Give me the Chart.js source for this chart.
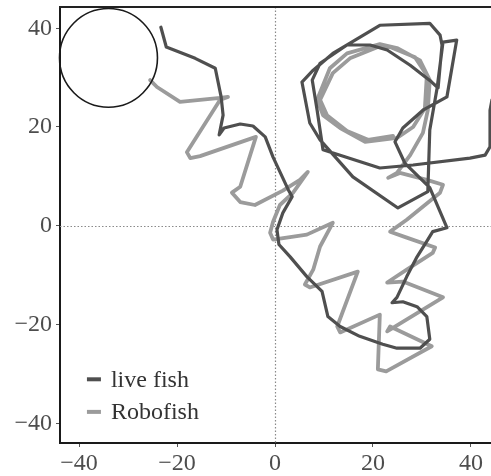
<!DOCTYPE html>
<html>
<head>
<meta charset="utf-8">
<script src="https://cdn.jsdelivr.net/npm/chart.js@4/dist/chart.umd.min.js"></script>
<style>
html,body{margin:0;padding:0;background:#fff;overflow:hidden;}
#wrap{width:491px;height:476px;}
</style>
</head>
<body>
<div id="wrap"><canvas id="c" width="491" height="476"></canvas></div>
<script>
// ---- data ----
const seriesNames = ["live fish", "Robofish"];
const liveFishX = [-23.3,-22.2,-16.3,-12.2,-11.0,-10.6,-11.4,-10.4,-7.1,-4.5,-2.0,-0.4,2.7,3.5,1.6,0.4,0.8,3.1,6.5,9.6,10.8,13.3,17.3,22.0,24.9,29.6,31.6,31.0,29.0,26.1,23.9,24.9,26.9,29.0,31.2,32.2,35.1,31.6,26.5,24.5,26.1,30.2,35.1,37.1,34.3,33.1,31.6,31.2,25.1,15.9,9.2,7.1,5.5,7.8,11.8,21.4,31.6,33.7,34.1,33.3,32.0,27.6,22.9,19.4,14.7,9.2,7.6,8.6,9.8,21.4,28.2,39.8,42.9,43.9,43.9,44.3];
const liveFishY = [40.2,36.2,33.9,31.9,26.1,22.4,18.4,19.8,20.6,20.2,18.0,13.9,7.3,5.9,2.6,-0.8,-3.8,-6.3,-10.3,-13.3,-18.4,-20.4,-22.4,-24.0,-24.8,-24.8,-23.0,-18.4,-16.4,-15.4,-15.6,-14.5,-10.3,-6.3,-2.8,-1.2,-0.4,7.7,12.7,17.0,19.8,23.4,26.1,37.6,37.2,27.9,19.4,6.9,3.6,9.9,17.4,20.8,29.1,31.5,34.9,40.6,41.0,38.6,36.6,27.9,29.1,32.5,35.6,36.6,36.6,32.9,29.5,23.4,15.4,11.7,12.3,13.7,14.3,16.0,23.4,25.5];
const robofishX = [-25.5,-24.1,-19.4,-11.2,-9.6,-11.2,-18.0,-17.3,-15.3,-3.9,-7.1,-8.8,-7.1,-4.1,1.6,5.1,6.7,3.7,1.0,-0.4,-1.0,-0.4,1.0,6.5,11.8,9.2,7.8,6.1,7.1,16.9,12.7,13.3,21.4,21.0,22.7,32.0,23.5,22.9,34.3,26.1,22.9,26.9,32.2,32.7,26.9,23.5,26.9,33.7,34.3,31.0,25.5,23.1,24.9,27.6,30.2,31.2,31.6,29.6,24.9,21.4,14.7,11.2,8.6,9.8,13.3,18.4,24.9,28.2,30.6,31.0,28.6,23.5,21.0,15.3,11.8,9.2,10.6,14.7,19.0,24.1];
const robofishY = [29.5,28.1,25.1,25.9,26.1,25.5,14.9,13.7,14.1,18.0,7.9,6.7,4.8,4.2,7.1,9.3,10.9,6.7,4.2,0.8,-1.4,-2.8,-2.6,-1.8,0.6,-4.2,-8.9,-11.9,-12.5,-9.3,-20.4,-21.6,-18.0,-29.1,-29.5,-24.4,-20.4,-21.4,-14.5,-11.3,-11.5,-8.9,-5.5,-4.4,-2.4,-1.2,1.2,6.7,8.3,9.3,10.7,9.7,10.7,14.3,18.8,23.4,29.5,33.5,36.0,36.8,34.9,31.9,25.5,22.4,19.8,17.0,17.8,20.0,23.8,30.5,34.1,36.2,36.2,33.9,30.9,25.5,22.4,19.2,17.4,18.2];
const tickValues = [-40, -20, 0, 20, 40];
const startZone = {x: -34, y: 34, r: 10};
const axisRange = {xMin: -43.9, xMax: 44.1, yMin: -44, yMax: 44.3};

function toPoints(xs, ys){
  const n = Math.min(xs.length, ys.length), out = [];
  for (let i = 0; i < n; i++) out.push({x: xs[i], y: ys[i]});
  return out;
}
const colors = ["#4f4f4f", "#9b9b9b"];
const FONT = "'Liberation Serif', 'DejaVu Serif', serif";

const fmt = v => (v < 0 ? "\u2212" + Math.abs(v) : String(v));

const decor = {
  id: 'decor',
  beforeDatasetsDraw(chart){
    const {ctx, chartArea: a, scales: {x, y}} = chart;
    ctx.save();
    ctx.strokeStyle = '#8a8a8a';
    ctx.lineWidth = 1.2;
    ctx.setLineDash([1.5, 2]);
    const x0 = Math.round(x.getPixelForValue(0)) + 0.5;
    const y0 = Math.round(y.getPixelForValue(0)) + 0.5;
    ctx.beginPath(); ctx.moveTo(x0, a.top); ctx.lineTo(x0, a.bottom); ctx.stroke();
    ctx.beginPath(); ctx.moveTo(a.left, y0); ctx.lineTo(a.right, y0); ctx.stroke();
    ctx.restore();
  },
  afterDatasetsDraw(chart){
    const {ctx, chartArea: a, scales: {x, y}} = chart;
    ctx.save();
    const cx = x.getPixelForValue(startZone.x), cy = y.getPixelForValue(startZone.y);
    const rx = Math.abs(x.getPixelForValue(startZone.x + startZone.r) - cx);
    const ry = Math.abs(y.getPixelForValue(startZone.y + startZone.r) - cy);
    ctx.beginPath(); ctx.ellipse(cx, cy, rx, ry, 0, 0, Math.PI*2);
    ctx.strokeStyle = '#1a1a1a'; ctx.lineWidth = 1.6; ctx.stroke();
    ctx.beginPath(); ctx.moveTo(a.left - 1, a.top); ctx.lineTo(a.right, a.top);
    ctx.strokeStyle = '#222'; ctx.lineWidth = 2; ctx.stroke();
    ctx.font = "24px " + FONT;
    ctx.textBaseline = 'middle';
    const lx = x.getPixelForValue(-38.4), ly = [y.getPixelForValue(-31.1), y.getPixelForValue(-37.7)];
    chart.data.datasets.forEach((ds, i) => {
      ctx.strokeStyle = ds.borderColor; ctx.lineWidth = 4; ctx.lineCap = 'butt';
      ctx.beginPath(); ctx.moveTo(lx, ly[i]); ctx.lineTo(lx + 14, ly[i]); ctx.stroke();
      ctx.fillStyle = '#333';
      ctx.fillText(ds.label, lx + 24, ly[i] + 1);
    });
    ctx.restore();
  }
};

new Chart(document.getElementById('c'), {
  type: 'scatter',
  data: {
    datasets: [
      {label: seriesNames[0], data: toPoints(liveFishX, liveFishY), showLine: true, borderColor: colors[0], borderWidth: 3.2, pointRadius: 0, borderJoinStyle: 'round', borderCapStyle: 'round', tension: 0},
      {label: seriesNames[1], data: toPoints(robofishX, robofishY), showLine: true, borderColor: colors[1], borderWidth: 3.8, pointRadius: 0, borderJoinStyle: 'round', borderCapStyle: 'round', tension: 0}
    ]
  },
  options: {
    responsive: false, animation: false, devicePixelRatio: 1,
    layout: {padding: {top: 7, right: 0, left: 0, bottom: 0}},
    plugins: {legend: {display: false}, tooltip: {enabled: false}},
    scales: {
      x: {
        type: 'linear', min: axisRange.xMin, max: axisRange.xMax,
        afterBuildTicks: s => { s.ticks = tickValues.map(v => ({value: v})); },
        afterFit: s => { s.height = 33; s.paddingLeft = 0; s.paddingRight = 0; },
        grid: {drawOnChartArea: false, drawTicks: true, tickLength: 4, color: '#555'},
        border: {display: true, color: '#1a1a1a', width: 2},
        ticks: {callback: v => fmt(v), color: '#4d4d4d', font: {family: FONT, size: 24}, padding: 2, maxRotation: 0}
      },
      y: {
        type: 'linear', min: axisRange.yMin, max: axisRange.yMax,
        afterBuildTicks: s => { s.ticks = tickValues.map(v => ({value: v})); },
        afterFit: s => { s.width = 60; s.paddingTop = 0; s.paddingBottom = 0; },
        grid: {drawOnChartArea: false, drawTicks: true, tickLength: 4, color: '#555'},
        border: {display: true, color: '#1a1a1a', width: 2},
        ticks: {callback: v => fmt(v), color: '#4d4d4d', font: {family: FONT, size: 24}, padding: 4}
      }
    }
  },
  plugins: [decor]
});
</script>
</body>
</html>
